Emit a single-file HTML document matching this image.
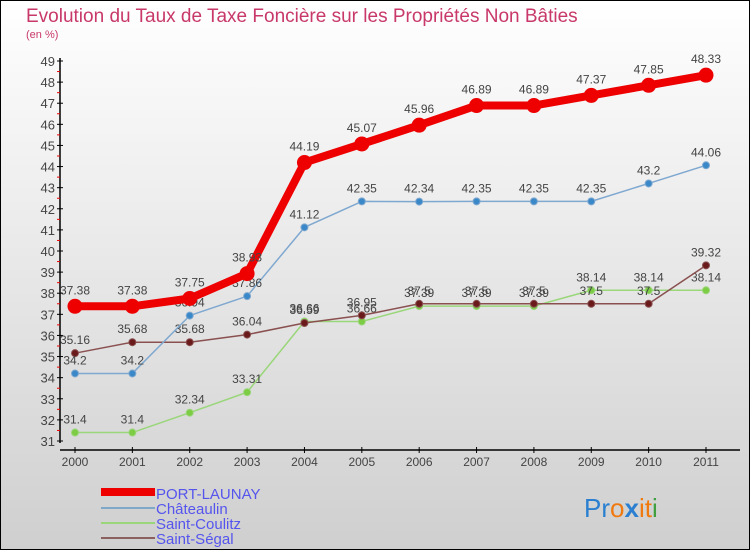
<!DOCTYPE html>
<html><head><meta charset="utf-8"><style>
body{margin:0}
#c{width:750px;height:550px;position:relative;overflow:hidden;font-family:"Liberation Sans",sans-serif}
</style></head><body>
<div id="c">
<svg width="750" height="550" xmlns="http://www.w3.org/2000/svg" id="svg">
<defs><linearGradient id="bg" x1="0" y1="0" x2="0" y2="1"><stop offset="0" stop-color="#ffffff"/><stop offset="1" stop-color="#cfcfcf"/></linearGradient></defs>
<rect x="0.5" y="0.5" width="749" height="549" fill="url(#bg)" stroke="#000"/>
<text x="26" y="22" font-size="19" fill="#c8386a">Evolution du Taux de Taxe Foncière sur les Propriétés Non Bâties</text>
<text x="26" y="38" font-size="11" fill="#c8386a">(en %)</text>
<g id="axes"></g><g id="series"></g>
<g>
<rect x="101" y="488" width="54" height="8" fill="#ee0000"/>
<text x="156" y="499" font-size="15" fill="#5555ee">PORT-LAUNAY</text>
<rect x="101" y="507" width="54" height="2" fill="#7fa8c8"/>
<text x="156" y="514" font-size="15" fill="#5555ee">Châteaulin</text>
<rect x="101" y="522" width="54" height="2" fill="#9ad67a"/>
<text x="156" y="529" font-size="15" fill="#5555ee">Saint-Coulitz</text>
<rect x="101" y="537" width="54" height="2" fill="#8a6060"/>
<text x="156" y="544" font-size="15" fill="#5555ee">Saint-Ségal</text>
</g>
<text x="584" y="517" font-size="26"><tspan fill="#2a7fd0">Pr</tspan><tspan fill="#f07a10">o</tspan><tspan fill="#2a7fd0" font-weight="bold">x</tspan><tspan fill="#f07a10">i</tspan><tspan fill="#f07a10">t</tspan><tspan fill="#40a040">i</tspan></text>
</svg>
</div>
<script>
const years=["2000","2001","2002","2003","2004","2005","2006","2007","2008","2009","2010","2011"];
const portLaunay=[37.38,37.38,37.75,38.93,44.19,45.07,45.96,46.89,46.89,47.37,47.85,48.33];
const chateaulin=[34.2,34.2,36.94,37.86,41.12,42.35,42.34,42.35,42.35,42.35,43.2,44.06];
const saintCoulitz=[31.4,31.4,32.34,33.31,36.66,36.66,37.39,37.39,37.39,38.14,38.14,38.14];
const saintSegal=[35.16,35.68,35.68,36.04,36.59,36.95,37.5,37.5,37.5,37.5,37.5,39.32];
const yTicks=[31,32,33,34,35,36,37,38,39,40,41,42,43,44,45,46,47,48,49];
const NS="http://www.w3.org/2000/svg";
const x=i=>75+i*(706-75)/11;
const y=v=>441-(v-31)*(441-61)/18;
function mk(t,a,p){const e=document.createElementNS(NS,t);for(const k in a)e.setAttribute(k,a[k]);p.appendChild(e);return e;}
const ax=document.getElementById('axes');
let l=mk('line',{x1:60,y1:58,x2:60,y2:443,stroke:'#000','stroke-width':1.5},ax);


l=mk('line',{x1:60,y1:450,x2:740,y2:450,stroke:'#000','stroke-width':1.5},ax);


yTicks.forEach((v,i)=>{
 mk('line',{x1:57,y1:y(v),x2:63,y2:y(v),stroke:'#000'},ax);
 if(i<yTicks.length-1)mk('line',{x1:57,y1:y(v+0.5),x2:60,y2:y(v+0.5),stroke:'#e00'},ax);
 const t=mk('text',{x:55,y:y(v)+5,'font-size':13,fill:'#444','text-anchor':'end'},ax);t.textContent=v;
 
 
});
years.forEach((yr,i)=>{
 mk('line',{x1:x(i),y1:447,x2:x(i),y2:453,stroke:'#000'},ax);
 const t=mk('text',{x:x(i),y:466,'font-size':12,fill:'#444','text-anchor':'middle'},ax);t.textContent=yr;
 
 
});
const sg=document.getElementById('series');
function draw(vals,name,color,dot,w,r,dy){
 const g=mk('g',{},sg);
 
 
 const p=mk('polyline',{points:vals.map((v,i)=>x(i)+','+y(v)).join(' '),fill:'none',stroke:color,'stroke-width':w,'stroke-linejoin':'round'},g);
 
 
 vals.forEach((v,i)=>{
  const c=mk('circle',{cx:x(i),cy:y(v),r:r,fill:dot,stroke:color,'stroke-width':1},g);
  
  
  const t=mk('text',{x:x(i),y:y(v)-dy,'font-size':12,fill:'#444','text-anchor':'middle'},g);t.textContent=v;
  
  
 });
}
draw(saintCoulitz,'saint-coulitz','#9ad67a','#7ccc44',1.5,3.5,9);
draw(saintSegal,'saint-segal','#8a5050','#6a1a1a',1.5,3.5,9);
draw(chateaulin,'chateaulin','#7fa8d0','#3a88c8',1.5,3.5,9);
draw(portLaunay,'port-launay','#ee0000','#ee0000',8,7,12);
</script>
</body></html>
